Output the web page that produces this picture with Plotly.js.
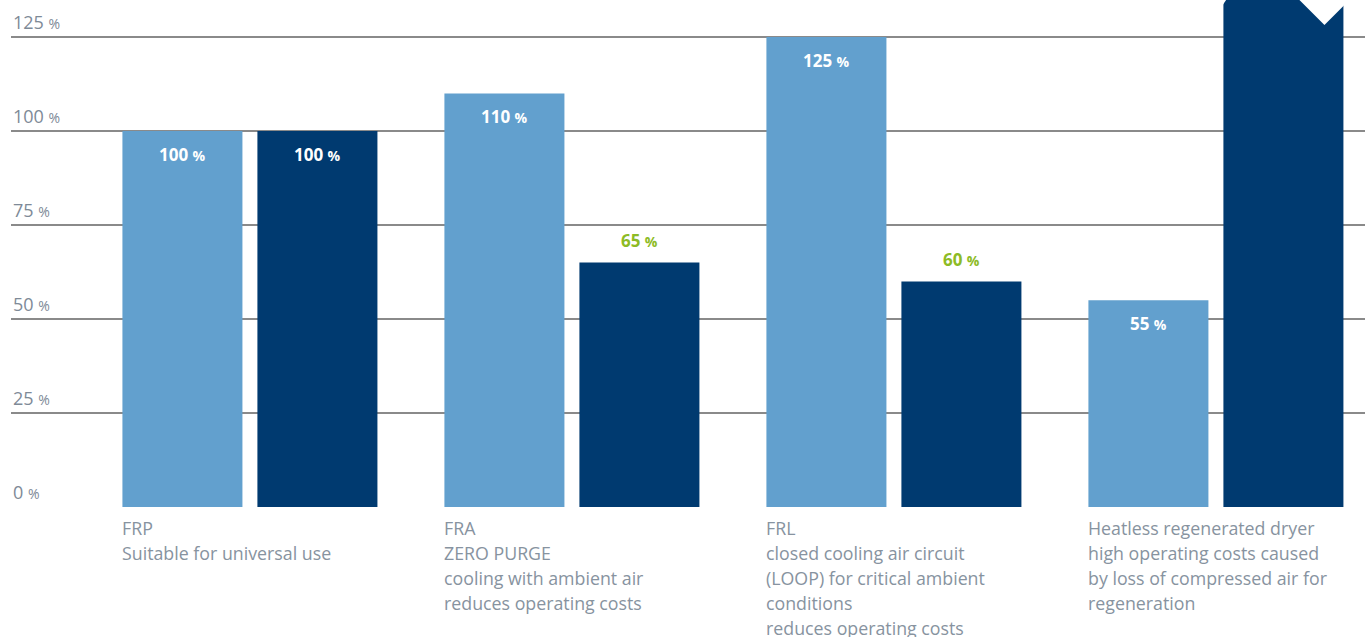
<!DOCTYPE html>
<html>
<head>
<meta charset="utf-8">
<script src="https://cdn.plot.ly/plotly-3.0.1.min.js"></script>
<style>html,body{margin:0;padding:0;background:#fff}#chart{width:1365px;height:637px}</style>
</head>
<body>
<div id="chart"></div>
<script>
const categories = ['FRP', 'FRA', 'FRL', 'Heatless'];
const lightValues = [100, 110, 125, 55];
const darkValues = [100, 65, 60, 140];
const lightLabels = ['100', '110', '125', '55'];
const darkLabels = ['100', '65', '60', ''];
const darkLabelOutside = [false, true, true, false];
const categoryText = [
  ['FRP', 'Suitable for universal use'],
  ['FRA', 'ZERO PURGE', 'cooling with ambient air', 'reduces operating costs'],
  ['FRL', 'closed cooling air circuit', '(LOOP) for critical ambient', 'conditions', 'reduces operating costs'],
  ['Heatless regenerated dryer', 'high operating costs caused', 'by loss of compressed air for', 'regeneration']
];
const yTicks = [0, 25, 50, 75, 100, 125];

const W = 1365, H = 637;
const ml = 11, mb = 130;
const plotW = W - ml, plotH = H - mb;
const xr = [-0.742, 3.463];
const yr = [0, 134.84];
const pxPerCat = plotW / (xr[1] - xr[0]);
const barOffsetPx = 67.5;

const LIGHT = '#62a0ce';
const DARK = '#003a70';
const GREEN = '#8dbb25';
const GRAY = '#7e8a97';
const FONT = 'Open Sans, Noto Sans, sans-serif';

const traces = [
  {type: 'bar', x: categories, y: lightValues, marker: {color: LIGHT}, hoverinfo: 'none'},
  {type: 'bar', x: categories, y: darkValues, marker: {color: DARK}, hoverinfo: 'none'}
];

const pct = (n, s) => n + ' <span style="font-size:' + s + 'px">%</span>';
const annotations = [];

yTicks.forEach(t => {
  annotations.push({xref: 'paper', x: 0, xanchor: 'left', yref: 'y', y: t, yanchor: 'bottom', yshift: 1,
    text: pct(t, 14), showarrow: false, font: {family: FONT, size: 18, color: GRAY}});
});

categories.forEach((c, i) => {
  annotations.push({xref: 'x', x: c, xshift: -barOffsetPx, yref: 'y', y: lightValues[i], yanchor: 'middle', yshift: -23,
    text: '<b>' + pct(lightLabels[i], 14) + '</b>', showarrow: false, font: {family: FONT, size: 17, color: '#ffffff'}});
  if (darkLabels[i]) {
    annotations.push({xref: 'x', x: c, xshift: barOffsetPx, yref: 'y', y: darkValues[i], yanchor: 'middle',
      yshift: darkLabelOutside[i] ? 22 : -23,
      text: '<b>' + pct(darkLabels[i], 14) + '</b>', showarrow: false,
      font: {family: FONT, size: 17, color: darkLabelOutside[i] ? GREEN : '#ffffff'}});
  }
  categoryText[i].forEach((line, j) => {
    annotations.push({xref: 'x', x: c, xshift: -barOffsetPx - 62, xanchor: 'left', yref: 'paper', y: 0, yanchor: 'middle',
      yshift: -21 - 25 * j, text: line, showarrow: false, font: {family: FONT, size: 17.8, color: '#8793a0'}});
  });
});

// broken-bar notch on the off-scale bar
const brokenIdx = darkValues.findIndex(v => v > yr[1]);
const shapes = [];
if (brokenIdx >= 0) {
  const leftPx = (brokenIdx - xr[0]) * pxPerCat + barOffsetPx - 60;
  const px = p => (p[0] + leftPx) / plotW;
  const py = p => 1 - p[1] / plotH;
  const path = pts => 'M' + pts.map(p => px(p) + ',' + py(p)).join(' L') + ' Z';
  shapes.push({type: 'path', xref: 'paper', yref: 'paper', path: path([[74, -2], [101, 25], [122, 4], [122, -2]]),
    fillcolor: '#ffffff', line: {width: 0}});
  shapes.push({type: 'path', xref: 'paper', yref: 'paper', path: path([[-2, -2], [4, -2], [-2, 7]]),
    fillcolor: '#ffffff', line: {width: 0}});
}

const layout = {
  width: W, height: H,
  margin: {l: ml, r: 0, t: 0, b: mb, pad: 0},
  paper_bgcolor: '#ffffff', plot_bgcolor: '#ffffff',
  showlegend: false,
  barmode: 'group', bargap: 0.1615, bargroupgap: 0.111,
  xaxis: {type: 'category', range: xr, showticklabels: false, showgrid: false, zeroline: false, showline: false, ticks: '', fixedrange: true},
  yaxis: {range: yr, tickvals: yTicks, showticklabels: false, showgrid: true, gridcolor: '#8a8a8a', gridwidth: 2.5,
    zeroline: false, showline: false, ticks: '', fixedrange: true},
  annotations: annotations,
  shapes: shapes
};

Plotly.newPlot('chart', traces, layout, {displayModeBar: false, staticPlot: true});
</script>
</body>
</html>
